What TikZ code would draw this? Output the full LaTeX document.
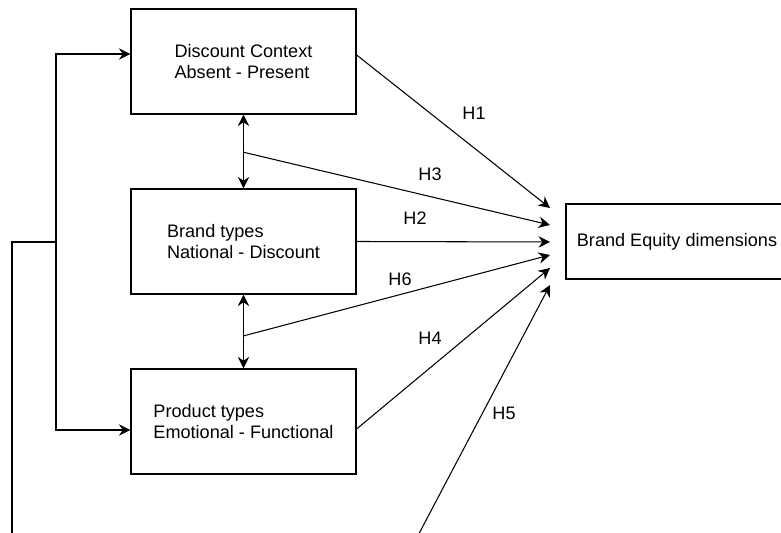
\documentclass[tikz,border=0pt]{standalone}
\usepackage{fontspec}
\setmainfont{Liberation Sans}
\usetikzlibrary{arrows.meta, positioning, calc}
\tikzset{
  vbox/.style={draw, line width=0.7pt, minimum width=4.5cm, minimum height=2.1cm,
               align=left, font=\fontsize{10.3}{12.3}\selectfont, inner sep=4pt},
  ebox/.style={draw, line width=0.7pt, minimum width=4.44cm, minimum height=1.5cm,
               font=\fontsize{10.3}{12.3}\selectfont, inner sep=4pt},
  arr/.style={-{Stealth[length=6.5pt,width=6.5pt]}, line width=0.6pt},
  barr/.style={{Stealth[length=6.5pt,width=6.5pt]}-{Stealth[length=6.5pt,width=6.5pt]}, line width=0.7pt},
  hlab/.style={font=\fontsize{10.3}{12.3}\selectfont, inner sep=1pt},
}
\begin{document}
\begin{tikzpicture}
  \path[use as bounding box, clip] (0,0) rectangle (15.62,10.66);

  % independent variables
  \node[vbox] (dc) at (4.87,9.43) {Discount Context\\Absent - Present};
  \node[vbox] (bt) at (4.87,5.83) {Brand types\\National - Discount};
  \node[vbox] (pt) at (4.87,2.23) {Product types\\Emotional - Functional};
  % dependent variable
  \node[ebox] (eq) at (13.54,5.83) {Brand Equity dimensions};

  % interaction points and arrow ends
  \coordinate (m1) at ($(dc.south)!0.51!(bt.north)$);
  \coordinate (m2) at ($(bt.south)!0.56!(pt.north)$);
  \coordinate (t1) at (11.0,6.50);
  \coordinate (t3) at (11.0,6.16);
  \coordinate (t2) at (11.0,5.82);
  \coordinate (t6) at (11.0,5.56);
  \coordinate (t4) at (11.0,5.30);
  \coordinate (t5) at (11.0,4.96);
  \coordinate (fork) at (1.12,5.82);
  \coordinate (lft) at (0.24,5.82);
  \coordinate (lbot) at (0.24,-0.3);
  \coordinate (h5s) at (8.26,-0.24);

  % left bracket
  \draw[line width=0.6pt] (lbot) -- (lft) -- (fork);
  \draw[arr] (fork) |- ($(dc.west)+(0,0.15)$);
  \draw[arr] (fork) |- ($(pt.west)+(0,-0.17)$);

  % correlations
  \draw[barr] (dc.south) -- (bt.north);
  \draw[barr] (bt.south) -- (pt.north);

  % hypotheses
  \draw[arr] ($(dc.east)+(0,0.13)$) -- (t1);
  \draw[arr] (m1) -- (t3);
  \draw[arr] (bt.east) -- (t2);
  \draw[arr] (m2) -- (t6);
  \draw[arr] ($(pt.east)+(0,-0.15)$) -- (t4);
  \draw[arr] (h5s) -- (t5);

  \node[hlab] (h1) at (9.48,8.40) {H1};
  \node[hlab] (h3) at (8.60,7.18) {H3};
  \node[hlab] (h2) at (8.30,6.30) {H2};
  \node[hlab] (h6) at (8.00,5.08) {H6};
  \node[hlab] (h4) at (8.60,3.90) {H4};
  \node[hlab] (h5) at (10.08,2.40) {H5};
\end{tikzpicture}
\end{document}
